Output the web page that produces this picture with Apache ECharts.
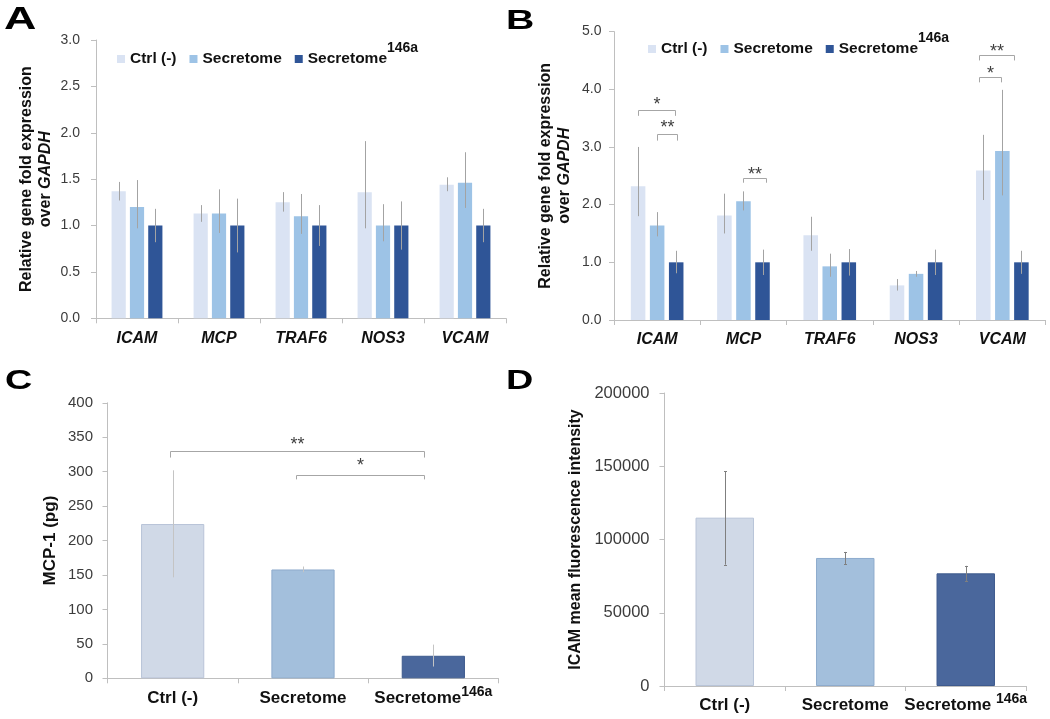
<!DOCTYPE html>
<html><head><meta charset="utf-8">
<script src="https://cdn.jsdelivr.net/npm/echarts@6/dist/echarts.min.js"></script>
<style>html,body{margin:0;padding:0;background:#fff}#c{width:1050px;height:719px}</style>
</head><body><div id="c"></div>
<script>
// ---------------- data ----------------
const genes = ['ICAM', 'MCP', 'TRAF6', 'NOS3', 'VCAM'];
const groupNames = ['Ctrl (-)', 'Secretome', 'Secretome^146a'];

// Panel A
const aCtrl   = [1.37, 1.13, 1.25, 1.36, 1.44];
const aCtrlLo = [1.27, 1.04, 1.15, 0.97, 1.37];
const aCtrlHi = [1.47, 1.22, 1.36, 1.91, 1.52];
const aSec    = [1.20, 1.13, 1.10, 1.00, 1.46];
const aSecLo  = [0.97, 0.92, 0.91, 0.83, 1.19];
const aSecHi  = [1.49, 1.39, 1.34, 1.23, 1.79];
const a146    = [1.00, 1.00, 1.00, 1.00, 1.00];
const a146Lo  = [0.82, 0.71, 0.78, 0.74, 0.82];
const a146Hi  = [1.18, 1.29, 1.22, 1.26, 1.18];

// Panel B
const bCtrl   = [2.32, 1.81, 1.47, 0.60, 2.59];
const bCtrlLo = [1.80, 1.50, 1.20, 0.51, 2.08];
const bCtrlHi = [3.00, 2.19, 1.79, 0.71, 3.21];
const bSec    = [1.64, 2.06, 0.93, 0.80, 2.93];
const bSecLo  = [1.45, 1.90, 0.75, 0.75, 2.16];
const bSecHi  = [1.87, 2.23, 1.15, 0.85, 3.99];
const b146    = [1.00, 1.00, 1.00, 1.00, 1.00];
const b146Lo  = [0.81, 0.78, 0.77, 0.78, 0.80];
const b146Hi  = [1.20, 1.22, 1.23, 1.22, 1.20];
// significance brackets in B (category-index units for x, data units for y)
const bBrFrom  = [-0.22, 0.00, 1.00, 3.73, 3.73];
const bBrTo    = [0.21, 0.23, 1.26, 4.14, 3.99];
const bBrY     = [3.64, 3.23, 2.47, 4.60, 4.21];
const bBrLeg   = [3.54, 3.11, 2.38, 4.50, 4.12];
const bBrTextY = [3.80, 3.39, 2.59, 4.72, 4.33];
const bBrLabel = ['*', '**', '**', '**', '*'];

// Panel C
const cCats = ['Ctrl (-)', 'Secretome', 'Secretome^146a'];
const cVals = [224, 158, 32.7];
const cLo   = [146.6, 154, 17.1];
const cHi   = [302, 162.3, 48.9];
const cBrFrom  = [-0.02, 0.95];
const cBrTo    = [1.93, 1.93];
const cBrY     = [329.3, 295.6];
const cBrLeg   = [320.5, 288.8];
const cBrTextY = [344.9, 314.1];
const cBrLabel = ['**', '*'];

// Panel D
const dCats = ['Ctrl (-)', 'Secretome', 'Secretome ^146a'];
const dVals = [114900, 87400, 76900];
const dLo   = [82800, 83300, 71700];
const dHi   = [146500, 91500, 82000];

// ---------------- style ----------------
const FONT = "'Liberation Sans', Arial, sans-serif";
const abColors = ['#dae3f3', '#9dc3e6', '#2f5597'];
const cdColors = ['#d0d9e7', '#a3bfdc', '#4a679c'];
const cdBorders = ['#b8c4d8', '#8eabcd', '#3e5a8d'];
const AXIS = '#bfbfbf';
const TICKTXT = '#3c3c3c';
const DARK = '#111';

function supFmt(name) {
  const p = name.split('^');
  return p.length > 1 ? '{m|' + p[0] + '}{s|' + p[1] + '}' : '{m|' + name + '}';
}

function errRender(catGap, barGap, n, color, cap) {
  return function (params, api) {
    const cat = api.value(0), lo = api.value(1), hi = api.value(2), s = api.value(3);
    const band = api.size([1, 0])[0];
    const w = band * (1 - catGap) / (n + (n - 1) * barGap);
    const start = -(n * w + (n - 1) * barGap * w) / 2;
    let cx = api.coord([cat, 0])[0] + start + s * w * (1 + barGap) + w / 2;
    cx = Math.round(cx) + 0.5;
    const y1 = api.coord([cat, lo])[1], y2 = api.coord([cat, hi])[1];
    const ch = [{ type: 'line', shape: { x1: cx, y1: y1, x2: cx, y2: y2 }, style: { stroke: color, lineWidth: 1 } }];
    if (cap) {
      ch.push({ type: 'line', shape: { x1: cx - cap, y1: Math.round(y1) + 0.5, x2: cx + cap, y2: Math.round(y1) + 0.5 }, style: { stroke: color, lineWidth: 1 } });
      ch.push({ type: 'line', shape: { x1: cx - cap, y1: Math.round(y2) + 0.5, x2: cx + cap, y2: Math.round(y2) + 0.5 }, style: { stroke: color, lineWidth: 1 } });
    }
    return { type: 'group', children: ch };
  };
}

function bracketRender(labels) {
  return function (params, api) {
    const band = api.size([1, 0])[0];
    const x0 = api.coord([0, 0])[0];
    const x1 = Math.round(x0 + api.value(0) * band) + 0.5;
    const x2 = Math.round(x0 + api.value(1) * band) + 0.5;
    const yl = Math.round(api.coord([0, api.value(2)])[1]) + 0.5;
    const yg = api.coord([0, api.value(3)])[1];
    const yt = api.coord([0, api.value(4)])[1];
    return {
      type: 'group', children: [
        { type: 'polyline', shape: { points: [[x1, yg], [x1, yl], [x2, yl], [x2, yg]] }, style: { stroke: '#a6a6a6', lineWidth: 1, fill: null } },
        { type: 'text', x: (x1 + x2) / 2, y: yt + 4, style: { text: labels[params.dataIndex], fontSize: 18, fontFamily: FONT, fill: '#404040', align: 'center', verticalAlign: 'middle', textAlign: 'center', textVerticalAlign: 'middle' } }
      ]
    };
  };
}

function errData(groups) {
  const out = [];
  groups.forEach((g, s) => g[0].forEach((v, i) => out.push([i, g[0][i], g[1][i], s])));
  return out;
}
function brData(from, to, y, leg, ty) {
  return from.map((f, i) => [f, to[i], y[i], leg[i], ty[i]]);
}

const nameRich = {
  n: { fontSize: 16, fontWeight: 'bold', color: DARK, fontFamily: FONT, lineHeight: 19 },
  i: { fontSize: 16, fontWeight: 'bold', fontStyle: 'italic', color: DARK, fontFamily: FONT, lineHeight: 19 }
};
const geneName = '{n|Relative gene fold expression}\n{n|over }{i|GAPDH}';

function geneX(gi, margin) {
  return {
    type: 'category', gridIndex: gi, data: genes,
    axisLine: { lineStyle: { color: AXIS } },
    axisTick: { show: true, length: 5, lineStyle: { color: AXIS } },
    axisLabel: { fontSize: 16, fontWeight: 'bold', fontStyle: 'italic', color: DARK, fontFamily: FONT, margin: margin, lineHeight: 20 }
  };
}
function groupX(gi, cats, margin, supPad) {
  return {
    type: 'category', gridIndex: gi, data: cats,
    axisLine: { lineStyle: { color: AXIS } },
    axisTick: { show: true, length: 5, lineStyle: { color: AXIS } },
    axisLabel: {
      margin: margin, formatter: supFmt, interval: 0,
      rich: {
        m: { fontSize: 17, fontWeight: 'bold', color: DARK, fontFamily: FONT, lineHeight: 20 },
        s: { fontSize: 14, fontWeight: 'bold', color: DARK, fontFamily: FONT, lineHeight: 8, padding: [0, 0, supPad, 0], verticalAlign: 'middle' }
      }
    }
  };
}
function valY(gi, max, interval, digits, fontSize, margin, name, nameGap, rich) {
  return {
    type: 'value', gridIndex: gi, min: 0, max: max, interval: interval,
    axisLine: { show: true, lineStyle: { color: AXIS } },
    axisTick: { show: true, length: 5, lineStyle: { color: AXIS } },
    splitLine: { show: false },
    axisLabel: { fontSize: fontSize, color: TICKTXT, fontFamily: FONT, margin: margin, formatter: v => v.toFixed(digits) },
    name: name, nameLocation: 'middle', nameRotate: 90, nameGap: nameGap,
    nameTextStyle: rich ? { rich: rich } : { fontSize: 17, fontWeight: 'bold', color: DARK, fontFamily: FONT, lineHeight: 20 }
  };
}

const series = [];
[[aCtrl, abColors[0]], [aSec, abColors[1]], [a146, abColors[2]]].forEach((d, s) => {
  series.push({ type: 'bar', name: groupNames[s], xAxisIndex: 0, yAxisIndex: 0, data: d[0], barGap: '29%', barCategoryGap: '38%', itemStyle: { color: d[1] } });
});
[[bCtrl, abColors[0]], [bSec, abColors[1]], [b146, abColors[2]]].forEach((d, s) => {
  series.push({ type: 'bar', name: groupNames[s], xAxisIndex: 1, yAxisIndex: 1, data: d[0], barGap: '31%', barCategoryGap: '39%', itemStyle: { color: d[1] } });
});
series.push({ type: 'custom', name: 'errA', xAxisIndex: 0, yAxisIndex: 0, z: 5, encode: { x: 0, y: [1, 2] },
  renderItem: errRender(0.38, 0.29, 3, '#a3a3a3', 0),
  data: errData([[aCtrlLo, aCtrlHi], [aSecLo, aSecHi], [a146Lo, a146Hi]]) });
series.push({ type: 'custom', name: 'errB', xAxisIndex: 1, yAxisIndex: 1, z: 5, encode: { x: 0, y: [1, 2] },
  renderItem: errRender(0.39, 0.31, 3, '#a3a3a3', 0),
  data: errData([[bCtrlLo, bCtrlHi], [bSecLo, bSecHi], [b146Lo, b146Hi]]) });
series.push({ type: 'custom', name: 'brB', xAxisIndex: 1, yAxisIndex: 1, z: 5, encode: { x: 0, y: 2 },
  renderItem: bracketRender(bBrLabel), data: brData(bBrFrom, bBrTo, bBrY, bBrLeg, bBrTextY) });

series.push({ type: 'bar', name: 'C', xAxisIndex: 2, yAxisIndex: 2, barCategoryGap: '51.5%',
  data: cVals.map((v, i) => ({ value: v, itemStyle: { color: cdColors[i], borderColor: cdBorders[i], borderWidth: 1 } })) });
series.push({ type: 'custom', name: 'errC', xAxisIndex: 2, yAxisIndex: 2, z: 5, encode: { x: 0, y: [1, 2] },
  renderItem: errRender(0.515, 0, 1, '#c4c4c4', 0),
  data: cVals.map((v, i) => [i, cLo[i], cHi[i], 0]) });
series.push({ type: 'custom', name: 'brC', xAxisIndex: 2, yAxisIndex: 2, z: 5, encode: { x: 0, y: 2 },
  renderItem: bracketRender(cBrLabel), data: brData(cBrFrom, cBrTo, cBrY, cBrLeg, cBrTextY) });

series.push({ type: 'bar', name: 'D', xAxisIndex: 3, yAxisIndex: 3, barCategoryGap: '51.5%',
  data: dVals.map((v, i) => ({ value: v, itemStyle: { color: cdColors[i], borderColor: cdBorders[i], borderWidth: 1 } })) });
series.push({ type: 'custom', name: 'errD', xAxisIndex: 3, yAxisIndex: 3, z: 5, encode: { x: 0, y: [1, 2] },
  renderItem: errRender(0.515, 0, 1, '#7f7f7f', 1.5),
  data: dVals.map((v, i) => [i, dLo[i], dHi[i], 0]) });

const legendRich = {
  m: { fontSize: 15.5, fontWeight: 'bold', color: DARK, fontFamily: FONT, lineHeight: 18 },
  s: { fontSize: 14, fontWeight: 'bold', color: DARK, fontFamily: FONT, lineHeight: 8, padding: [0, 0, 22, 0], verticalAlign: 'middle' }
};
function legend(left, top) {
  return { data: groupNames, left: left, top: top, padding: 0, itemGap: 13, itemWidth: 8, itemHeight: 8, icon: 'rect',
    selectedMode: false, formatter: supFmt, textStyle: { fontFamily: FONT, rich: legendRich } };
}

function letter(t, x, y, size) {
  return { type: 'text', x: x, y: y, scaleX: 1.4, style: { text: t, fontSize: size, fontWeight: 'bold', fontFamily: FONT, fill: '#000',
    align: 'left', verticalAlign: 'middle', textAlign: 'left', textVerticalAlign: 'middle' } };
}

const option = {
  animation: false,
  backgroundColor: '#fff',
  textStyle: { fontFamily: FONT },
  grid: [
    { left: 96, top: 40, width: 410, height: 278.3 },
    { left: 614, top: 31.6, width: 431.5, height: 288.4 },
    { left: 107.5, top: 402.8, width: 391, height: 275.5 },
    { left: 664.5, top: 393, width: 361.5, height: 293 }
  ],
  xAxis: [geneX(0, 10), geneX(1, 10), groupX(2, cCats, 10.5, 13), groupX(3, dCats, 9.5, 12)],
  yAxis: [
    valY(0, 3, 0.5, 1, 14, 16, geneName, 41, nameRich),
    valY(1, 5, 1, 1, 14, 12.5, geneName, 39.5, nameRich),
    valY(2, 400, 50, 0, 15, 14.5, 'MCP-1 (pg)', 47.5, null),
    Object.assign(valY(3, 200000, 50000, 0, 16.5, 15, 'ICAM mean fluorescence intensity', 78.5, null),
      { nameTextStyle: { fontSize: 16, fontWeight: 'bold', color: DARK, fontFamily: FONT, lineHeight: 20 } })
  ],
  legend: [legend(117, 41), legend(648, 31)],
  graphic: [letter('A', 4, 20, 32), letter('B', 506, 21, 28), letter('C', 5, 382, 27), letter('D', 506, 382, 27)],
  series: series
};

const chart = echarts.init(document.getElementById('c'), null, { renderer: 'canvas' });
chart.setOption(option);
</script>
</body></html>
